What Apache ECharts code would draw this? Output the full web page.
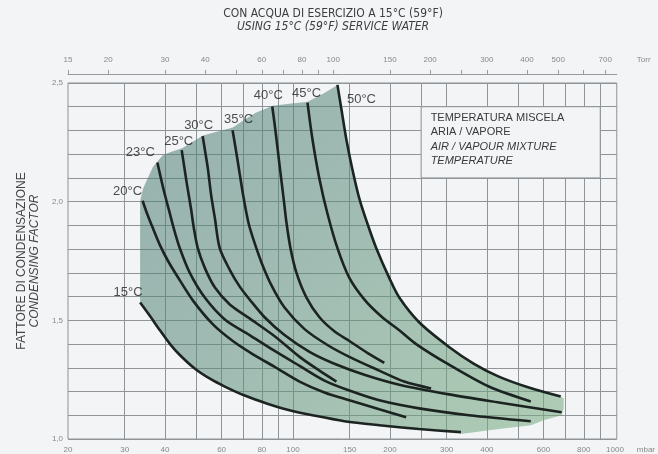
<!DOCTYPE html>
<html><head><meta charset="utf-8">
<script src="https://cdn.jsdelivr.net/npm/echarts@6/dist/echarts.min.js"></script>
<style>html,body{margin:0;padding:0;background:#f2f4f5;} #c{width:658px;height:454px;}</style>
</head><body><div id="c"></div>
<script>
// ---------- DATA (pressure in mbar, condensing factor) ----------
const tempLabels = ['15°C','20°C','23°C','25°C','30°C','35°C','40°C','45°C','50°C'];
const curve15 = [[33.5,1.575],[36.0,1.517],[38.6,1.458],[41.5,1.400],[44.5,1.354],[49.6,1.296],[55.2,1.254],[61.4,1.221],[70.8,1.183],[82.8,1.150],[97.5,1.121],[114.9,1.100],[144.4,1.075],[185.3,1.058],[246.4,1.042],[332.4,1.029]];
const curve20 = [[34.1,2.004],[35.2,1.950],[36.5,1.896],[38.6,1.817],[40.9,1.750],[43.6,1.688],[48.9,1.583],[56.4,1.483],[65.0,1.413],[74.9,1.358],[87.7,1.304],[104.8,1.242],[125.2,1.196],[149.6,1.163],[185.3,1.125],[224.6,1.092]];
const curve23 = [[37.9,2.165],[38.6,2.117],[39.7,2.046],[41.2,1.963],[42.7,1.883],[44.5,1.804],[47.8,1.700],[53.2,1.596],[61.4,1.504],[73.3,1.438],[87.7,1.371],[104.8,1.308],[125.2,1.246],[149.6,1.204],[185.3,1.163],[246.4,1.129],[352.0,1.100],[547.6,1.075]];
const curve25 = [[45.1,2.217],[45.8,2.158],[46.8,2.075],[48.2,1.971],[49.2,1.888],[50.6,1.804],[53.2,1.721],[57.2,1.638],[63.6,1.567],[73.3,1.508],[87.7,1.433],[104.8,1.346],[120.8,1.288],[136.4,1.242]];
const curve30 = [[52.4,2.276],[53.2,2.221],[54.4,2.138],[55.6,2.033],[57.2,1.929],[59.2,1.804],[63.6,1.713],[68.3,1.642],[73.3,1.588],[81.6,1.513],[94.1,1.438],[112.5,1.367],[134.4,1.317],[166.5,1.271],[213.8,1.229],[305.2,1.188],[435.8,1.154],[683.2,1.113]];
const curve35 = [[64.9,2.301],[66.4,2.221],[68.3,2.117],[70.3,2.013],[72.8,1.908],[76.0,1.825],[79.9,1.742],[85.8,1.646],[94.1,1.554],[108.6,1.463],[127.9,1.396],[149.6,1.346],[185.3,1.288],[221.4,1.242],[268.5,1.213]];
const curve40 = [[86.2,2.401],[87.7,2.325],[89.6,2.221],[91.5,2.117],[93.5,2.013],[95.5,1.908],[98.2,1.804],[102.5,1.700],[110.1,1.596],[120.8,1.513],[134.4,1.454],[149.6,1.413],[170.1,1.363],[192.1,1.321]];
const curve45 = [[110.9,2.417],[114.9,2.263],[120.8,2.096],[127.9,1.950],[137.4,1.804],[149.6,1.679],[167.7,1.583],[189.3,1.513],[213.8,1.458],[241.2,1.400],[305.2,1.313],[405.8,1.221],[547.6,1.158]];
const curve50 = [[137.4,2.492],[141.4,2.388],[146.4,2.263],[152.8,2.138],[160.7,2.013],[170.2,1.908],[181.4,1.804],[199.0,1.679],[213.8,1.596],[246.4,1.492],[305.2,1.388],[364.8,1.317],[435.8,1.263],[540.0,1.217],[678.4,1.179]];
// shaded region boundary pieces
const shadeEnvelope = [[33.5,1.575],[33.5,2.004],[34.2,2.054],[35.5,2.104],[36.7,2.146],[37.8,2.167],[39.4,2.196],[41.5,2.208],[45.2,2.225],[48.5,2.250],[52.5,2.279],[57.2,2.292],[65.0,2.313],[70.8,2.346],[76.6,2.375],[86.4,2.404],[97.5,2.413],[110.9,2.421],[122.5,2.450],[129.7,2.471]];
const shadeFoot = [[693,1.171],[693,1.129],[683,1.100],[601,1.079],[548,1.058],[436,1.042],[332,1.021]];
// axes
const mbarGridValues = [30,40,50,60,70,80,90,100,150,200,250,300,400,500,600,700,800,900];
const mbarLabelValues = [20,30,40,60,80,100,150,200,300,400,600,800,1000];
const torrTickValues = [15,20,30,40,50,60,70,80,90,100,150,200,250,300,400,500,600,700];
const torrLabelValues = [15,20,30,40,60,80,100,150,200,300,400,500,700];
const yLabelValues = [1.0,1.5,2.0,2.5];
const legendBox = [[250,2.4],[900,2.1]];
const legendIt = ['TEMPERATURA MISCELA','ARIA / VAPORE'];
const legendEn = ['AIR / VAPOUR MIXTURE','TEMPERATURE'];

// ---------- CHART ----------
const curves = [curve15,curve20,curve23,curve25,curve30,curve35,curve40,curve45,curve50];
const labelOffsets = [[-12,-10],[-15,-9],[-17,-10],[-3,-9],[-4,-11],[6,-11],[-4,-11],[-1,-9],[24,15]];
const gridColor = '#8e9497';
const font = 'Liberation Sans, Arial, sans-serif';
const narrow = 'Liberation Sans Narrow, DejaVu Sans Condensed, Arial Narrow, sans-serif';
const shadePoly = shadeEnvelope.concat(curve50, shadeFoot, curve15.slice().reverse());

const chart = echarts.init(document.getElementById('c'), null, {renderer:'canvas'});
const series = [];
series.push({
  type:'custom', coordinateSystem:'cartesian2d', silent:true, z:2,
  data:[[100,1.5]],
  renderItem:function(params, api){
    const pts = shadePoly.map(p => api.coord(p));
    return {type:'polygon', shape:{points:pts}, style:{
      fill:new echarts.graphic.LinearGradient(0,0,1,1,[
        {offset:0,color:'rgba(72,118,114,0.54)'},
        {offset:0.45,color:'rgba(92,140,122,0.54)'},
        {offset:1,color:'rgba(122,174,130,0.56)'}])}};
  },
  markArea:{silent:true, itemStyle:{color:'#f2f4f5', borderColor:gridColor, borderWidth:1},
    label:{show:true, position:'insideTopLeft', distance:0, padding:[4,0,0,10],
      formatter: legendIt.map(t=>'{a|'+t+'}').concat(legendEn.map(t=>'{b|'+t+'}')).join('\n'),
      rich:{a:{fontSize:11,color:'#3a3a3a',lineHeight:14.5,fontFamily:font},
            b:{fontSize:11,color:'#3a3a3a',lineHeight:14.5,fontStyle:'italic',fontFamily:font}}},
    data:[[{coord:legendBox[0]},{coord:legendBox[1]}]]}
});
curves.forEach((c,i)=>{
  series.push({type:'line', name:tempLabels[i], data:c, showSymbol:false, smooth:0.3, silent:true, z:3,
    lineStyle:{color:'#1c2422', width:2.6}});
});
series.push({
  type:'scatter', symbolSize:1, silent:true, z:5, itemStyle:{color:'rgba(0,0,0,0)'},
  data: curves.map((c,i)=>({value:c[0], name:tempLabels[i], label:{offset:labelOffsets[i]}})),
  label:{show:true, position:'inside', formatter:'{b}', fontSize:13, color:'#222', fontFamily:font, textBorderWidth:0}
});

const option = {
  animation:false,
  backgroundColor:'#f2f4f5',
  textStyle:{fontFamily:font},
  title:{text:'CON ACQUA DI ESERCIZIO A 15°C (59°F)', subtext:'USING 15°C (59°F) SERVICE WATER',
    left:333, textAlign:'center', top:8, padding:0, itemGap:1,
    textStyle:{fontSize:12, fontWeight:'normal', color:'#3d3d3d', fontFamily:narrow},
    subtextStyle:{fontSize:12, fontStyle:'italic', color:'#3d3d3d', fontFamily:narrow}},
  grid:{left:68, right:40, top:83, bottom:11, show:true, borderColor:gridColor, borderWidth:1, backgroundColor:'transparent'},
  xAxis:[{
    type:'log', logBase:10, min:20, max:1013, position:'bottom',
    axisLine:{show:false},
    axisTick:{show:false, customValues:mbarGridValues},
    splitLine:{show:true, lineStyle:{color:gridColor, width:1}},
    axisLabel:{customValues:mbarLabelValues, fontSize:8, color:'#888', margin:7, formatter:v=>String(Math.round(v))},
    name:'mbar', nameLocation:'end', nameGap:20,
    nameTextStyle:{fontSize:8, color:'#888', verticalAlign:'top', padding:[7,0,0,0]}
  },{
    type:'log', logBase:10, min:15, max:760, position:'top', offset:9,
    axisLine:{show:true, lineStyle:{color:'#9a9a9a', width:1}},
    axisTick:{show:true, customValues:torrTickValues, length:4, lineStyle:{color:'#9a9a9a'}},
    splitLine:{show:false},
    axisLabel:{customValues:torrLabelValues, fontSize:8, color:'#888', margin:10, formatter:v=>String(Math.round(v))},
    name:'Torr', nameLocation:'end', nameGap:20,
    nameTextStyle:{fontSize:8, color:'#888', verticalAlign:'bottom', padding:[0,0,10,0]}
  }],
  yAxis:{
    type:'value', min:1, max:2.5, interval:0.1,
    axisLine:{show:false}, axisTick:{show:false},
    splitLine:{show:true, lineStyle:{color:gridColor, width:1}},
    axisLabel:{customValues:yLabelValues, fontSize:8, color:'#888', margin:5, formatter:v=>v.toFixed(1).replace('.',',')},
    name:'{a|FATTORE DI CONDENSAZIONE}\n{b|CONDENSING FACTOR}', nameLocation:'middle', nameGap:27, nameRotate:90,
    nameTextStyle:{rich:{a:{fontSize:12,color:'#444',lineHeight:13,fontFamily:font},
                         b:{fontSize:12,color:'#444',lineHeight:13,fontStyle:'italic',fontFamily:font}}}
  },
  series:series
};
chart.setOption(option);
</script></body></html>
